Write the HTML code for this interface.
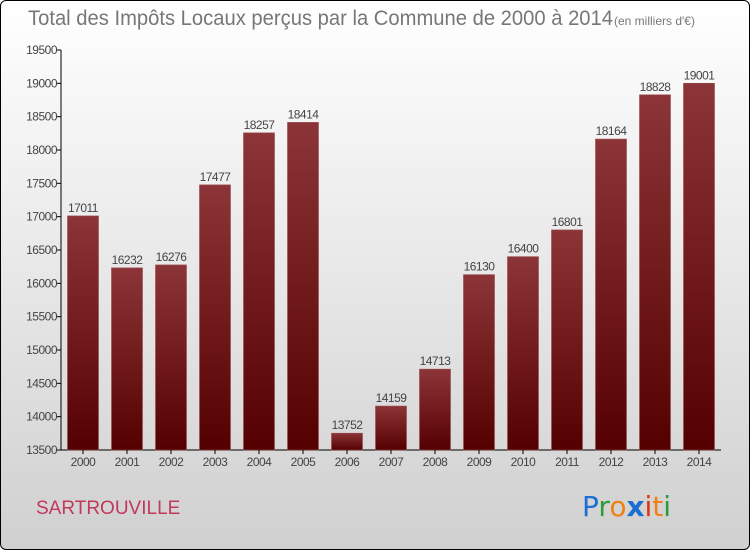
<!DOCTYPE html>
<html><head><meta charset="utf-8"><style>
body{margin:0;width:750px;height:550px;overflow:hidden;font-family:"Liberation Sans",sans-serif}
#frame{position:absolute;left:0;top:0;width:748px;height:548px;border:1px solid #000;border-radius:6px;background:linear-gradient(#ffffff,#d0d0d0)}
</style></head><body>
<div id="frame"></div>
<svg width="750" height="550" style="position:absolute;left:0;top:0">
<defs><linearGradient id="bg" x1="0" y1="0" x2="0" y2="1"><stop offset="0" stop-color="#8c3538"/><stop offset="1" stop-color="#550000"/></linearGradient></defs>
<text x="28" y="25" font-size="21" fill="#777" textLength="585" lengthAdjust="spacingAndGlyphs">Total des Impôts Locaux perçus par la Commune de 2000 à 2014</text>
<text x="614" y="25" font-size="12" fill="#777">(en milliers d'€)</text>
<text x="36" y="514" font-size="19" fill="#c0395a">SARTROUVILLE</text>
<g font-size="28" font-family="'DejaVu Sans',sans-serif">
<text x="582" y="516"><tspan fill="#1a6fd0">P</tspan><tspan fill="#2a9a3a">r</tspan><tspan fill="#f08010">o</tspan><tspan fill="#1a6fd0" font-weight="bold">x</tspan><tspan fill="#e03010">i</tspan><tspan fill="#f08010">t</tspan><tspan fill="#2a9a3a">i</tspan></text></g>
<g id="plot"></g>
</svg>
<script>
const years=["2000","2001","2002","2003","2004","2005","2006","2007","2008","2009","2010","2011","2012","2013","2014"];
const values=[17011,16232,16276,17477,18257,18414,13752,14159,14713,16130,16400,16801,18164,18828,19001];
const yTicks=[13500,14000,14500,15000,15500,16000,16500,17000,17500,18000,18500,19000,19500];
const ns="http://www.w3.org/2000/svg",g=document.getElementById('plot');
const x0=61,step=44,yMin=13500,yMax=19500,yTop=50,yBot=450;
const y=v=>yBot-(v-yMin)/(yMax-yMin)*(yBot-yTop);
function mk(t,a){const e=document.createElementNS(ns,t);for(const k in a)e.setAttribute(k,a[k]);g.appendChild(e);return e;}
let ax=mk('line',{x1:x0,y1:yTop,x2:x0,y2:yBot,stroke:'#000'});


let bx=mk('line',{x1:x0,y1:yBot,x2:x0+step*years.length,y2:yBot,stroke:'#000'});


yTicks.forEach(v=>{
 const l=mk('line',{x1:x0-4,x2:x0,y1:y(v),y2:y(v),stroke:'#000'});
 
 
 const t=mk('text',{x:x0-4,y:y(v)+4,'font-size':12,'text-anchor':'end',fill:'#444','letter-spacing':'-0.5'});t.textContent=v;
 
 
});
years.forEach((yr,i)=>{
 const cx=x0+step*i+step/2,v=values[i];
 const r=mk('rect',{x:cx-15.5,y:y(v),width:31,height:yBot-y(v),fill:'url(#bg)',stroke:'#9a4a4c','stroke-width':0.6});
 
 
 const tk=mk('line',{x1:cx,x2:cx,y1:yBot,y2:yBot+4,stroke:'#000'});
 
 
 const t=mk('text',{x:cx,y:yBot+16,'font-size':12,'text-anchor':'middle',fill:'#444','letter-spacing':'-0.5'});t.textContent=yr;
 
 
 const vl=mk('text',{x:cx,y:y(v)-4,'font-size':12,'text-anchor':'middle',fill:'#444','letter-spacing':'-0.5'});vl.textContent=v;
 
 
});
</script>
</body></html>
